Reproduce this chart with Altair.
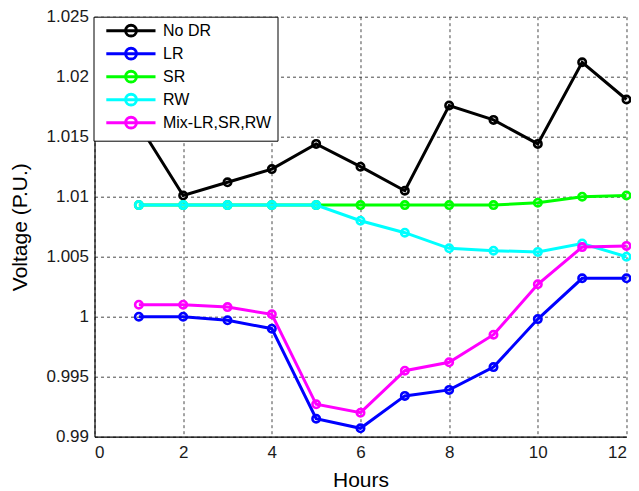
import altair as alt
import pandas as pd

hours = list(range(1, 13))
series_names = ["No DR", "LR", "SR", "RW", "Mix-LR,SR,RW"]
series_colors = ["#000000", "#0000ff", "#00ff00", "#00ffff", "#ff00ff"]

no_dr = [1.0160, 1.0101, 1.0112, 1.0123, 1.0144, 1.0125, 1.0105, 1.0176, 1.0164, 1.0144, 1.0212, 1.0181]
lr = [1.0000, 1.0000, 0.9997, 0.9990, 0.9915, 0.9907, 0.9934, 0.9939, 0.9958, 0.9998, 1.0032, 1.0032]
sr = [1.0093, 1.0093, 1.0093, 1.0093, 1.0093, 1.0093, 1.0093, 1.0093, 1.0093, 1.0095, 1.0100, 1.0101]
rw = [1.0093, 1.0093, 1.0093, 1.0093, 1.0093, 1.0080, 1.0070, 1.0057, 1.0055, 1.0054, 1.0061, 1.0050]
mix = [1.0010, 1.0010, 1.0008, 1.0002, 0.9927, 0.9920, 0.9955, 0.9962, 0.9985, 1.0027, 1.0058, 1.0059]

x_ticks = [0, 2, 4, 6, 8, 10, 12]
y_ticks = [0.99, 0.995, 1.0, 1.005, 1.01, 1.015, 1.02, 1.025]

values = [no_dr, lr, sr, rw, mix]
rows = []
for name, vals in zip(series_names, values):
    for h, v in zip(hours, vals):
        rows.append({"Hour": h, "Voltage": v, "Series": name})
df = pd.DataFrame(rows)

color_scale = alt.Scale(domain=series_names, range=series_colors)
legend_symbol = "M-0.2,0L8,0M4.82,0A0.9,0.9,0,1,1,3.02,0A0.9,0.9,0,1,1,4.82,0"

layers = []
for i, name in enumerate(series_names):
    layer = (
        alt.Chart(df)
        .transform_filter(alt.datum.Series == name)
        .mark_line(
            strokeWidth=3,
            point=alt.OverlayMarkDef(filled=False, size=55, strokeWidth=2.6, shape="circle"),
        )
        .encode(
            x=alt.X(
                "Hour:Q",
                scale=alt.Scale(domain=[0, 12], nice=False),
                axis=alt.Axis(
                    values=x_ticks,
                    title="Hours",
                    titleX=266,
                    titleY=44,
                    titleBaseline="middle",
                    titleFontSize=21,
                    labelPadding=8,
                ),
            ),
            y=alt.Y(
                "Voltage:Q",
                scale=alt.Scale(domain=[0.99, 1.025], nice=False, zero=False),
                axis=alt.Axis(
                    values=y_ticks,
                    format="~g",
                    title="Voltage (P.U.)",
                    titleX=-74.5,
                    titleY=210,
                    titleAngle=-90,
                    titleAlign="center",
                    titleBaseline="middle",
                    titleFontSize=21,
                    labelPadding=6,
                ),
            ),
            color=alt.Color(
                "Series:N",
                scale=color_scale,
                legend=alt.Legend(
                    title=None,
                    orient="none",
                    legendX=-1,
                    legendY=0,
                    symbolType=legend_symbol,
                    symbolSize=144,
                    symbolStrokeWidth=3,
                    symbolFillColor="transparent",
                    labelOffset=47.5,
                    labelFontSize=16,
                    labelFont="Liberation Sans",
                    labelColor="#000000",
                    fillColor="white",
                    strokeColor="black",
                    padding=6,
                    rowPadding=-1,
                    labelLimit=300,
                ),
            ),
        )
    )
    layers.append(layer)

chart = (
    alt.layer(*layers)
    .properties(
        width=532,
        height=420,
        padding={"left": 86.5, "top": 8.7, "right": 4, "bottom": 56},
        autosize=alt.AutoSizeParams(type="none"),
    )
    .configure_view(stroke=None)
    .configure_axis(
        grid=True,
        gridColor="#000000",
        gridDash=[3, 3],
        gridWidth=0.8,
        gridOpacity=0.9,
        domainColor="#000000",
        domainWidth=1.2,
        tickSize=0,
        labelFontSize=17,
        labelFont="Liberation Sans",
        labelColor="#1a1a1a",
        titleFont="Liberation Sans",
        titleFontWeight="normal",
        titleColor="#000000",
    )
)

chart.save("out.html", embed_options={"renderer": "svg", "actions": False})
